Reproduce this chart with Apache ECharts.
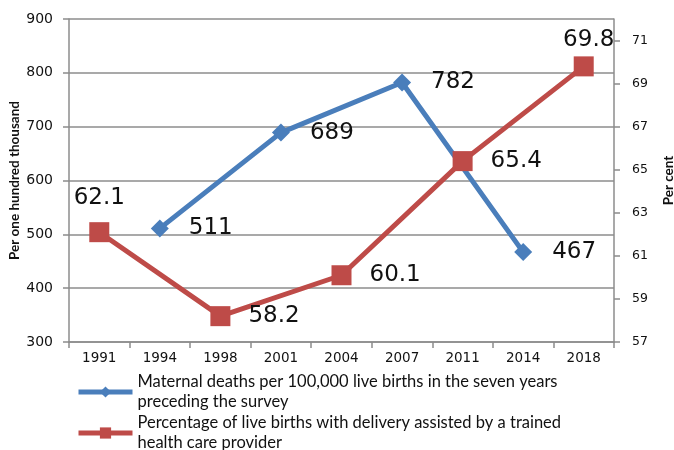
<!DOCTYPE html>
<html>
<head>
<meta charset="utf-8">
<script src="https://cdn.jsdelivr.net/npm/echarts@6/dist/echarts.min.js"></script>
<style>
  html, body { margin: 0; padding: 0; background: #fff; }
  #chart { width: 674px; height: 450px; }
</style>
</head>
<body>
<div id="chart"></div>
<script>
const years = ['1991', '1994', '1998', '2001', '2004', '2007', '2011', '2014', '2018'];
const maternalDeaths = [null, 511, null, 689, null, 782, null, 467, null];
const assistedBirths = [62.1, null, 58.2, null, 60.1, null, 65.4, null, 69.8];
const leftTicks = [300, 400, 500, 600, 700, 800, 900];
const rightTicks = [57, 59, 61, 63, 65, 67, 69, 71];

const deathsName = 'Maternal deaths per 100,000 live births in the seven years preceding the survey';
const birthsName = 'Percentage of live births with delivery assisted by a trained health care provider';

const gridColor = '#8c8c8c';
const labelFont = 'DejaVu Sans';

const chart = echarts.init(document.getElementById('chart'));

// red labels sit above the end points, to the right elsewhere
const lastIdx = years.length - 1;
const birthsData = assistedBirths.map((v, i) => ({
  value: v,
  label: i === 0 ? { position: 'top', distance: 13 }
       : i === lastIdx ? { position: 'top', distance: 5, offset: [5, 0] }
       : { position: 'right' }
}));

const option = {
  animation: false,
  grid: { left: 69, right: 60, top: 19, bottom: 108, outerBoundsMode: 'none' },
  legend: {
    orient: 'vertical',
    left: 71,
    top: 367,
    height: 84,
    itemWidth: 54,
    itemHeight: 14,
    itemGap: 1,
    lineStyle: { width: 5 },
    textStyle: {
      fontFamily: 'Lato',
      fontSize: 16.5,
      color: '#111',
      width: 430,
      overflow: 'break',
      lineHeight: 20
    },
    data: [deathsName, birthsName]
  },
  xAxis: {
    type: 'category',
    data: years,
    boundaryGap: true,
    axisLine: { lineStyle: { color: gridColor, width: 1.5 } },
    axisTick: { show: true, length: 6, lineStyle: { color: gridColor, width: 1.5 } },
    axisLabel: { fontFamily: labelFont, fontSize: 13.5, color: '#111', margin: 9 }
  },
  yAxis: [
    {
      type: 'value',
      min: 300,
      max: 900,
      interval: 100,
      name: 'Per one hundred thousand',
      nameLocation: 'middle',
      nameRotate: 90,
      nameGap: 47,
      nameMoveOverlap: false,
      nameTextStyle: { fontFamily: 'Lato', fontWeight: 'bold', fontSize: 13.5, color: '#111' },
      axisLine: { show: true, lineStyle: { color: gridColor, width: 1.5 } },
      axisTick: { show: true, length: 6, lineStyle: { color: gridColor, width: 1.5 } },
      axisLabel: { fontFamily: labelFont, fontSize: 14, color: '#111', margin: 16 },
      splitLine: { show: true, lineStyle: { color: gridColor, width: 1.5 } }
    },
    {
      type: 'value',
      min: 57,
      max: 72,
      position: 'right',
      name: 'Per cent',
      nameLocation: 'middle',
      nameRotate: 90,
      nameGap: 48,
      nameMoveOverlap: false,
      nameTextStyle: { fontFamily: 'Lato', fontWeight: 'bold', fontSize: 13.5, color: '#111' },
      axisLine: { show: true, lineStyle: { color: gridColor, width: 1.5 } },
      axisTick: { show: true, length: 6, customValues: rightTicks, lineStyle: { color: gridColor, width: 1.5 } },
      axisLabel: { fontFamily: labelFont, fontSize: 12.5, color: '#111', margin: 18, customValues: rightTicks },
      splitLine: { show: false }
    }
  ],
  series: [
    {
      name: deathsName,
      type: 'line',
      yAxisIndex: 0,
      data: maternalDeaths,
      connectNulls: true,
      symbol: 'diamond',
      symbolSize: 18,
      lineStyle: { color: '#4a7ebb', width: 5 },
      itemStyle: { color: '#4a7ebb' },
      label: {
        show: true,
        position: 'right',
        distance: 20,
        fontFamily: labelFont,
        fontSize: 23,
        color: '#111'
      }
    },
    {
      name: birthsName,
      type: 'line',
      yAxisIndex: 1,
      data: birthsData,
      connectNulls: true,
      symbol: 'rect',
      symbolSize: 20,
      lineStyle: { color: '#be4b48', width: 5 },
      itemStyle: { color: '#be4b48' },
      label: {
        show: true,
        distance: 18,
        fontFamily: labelFont,
        fontSize: 23,
        color: '#111'
      }
    }
  ]
};

chart.setOption(option);
</script>
</body>
</html>
